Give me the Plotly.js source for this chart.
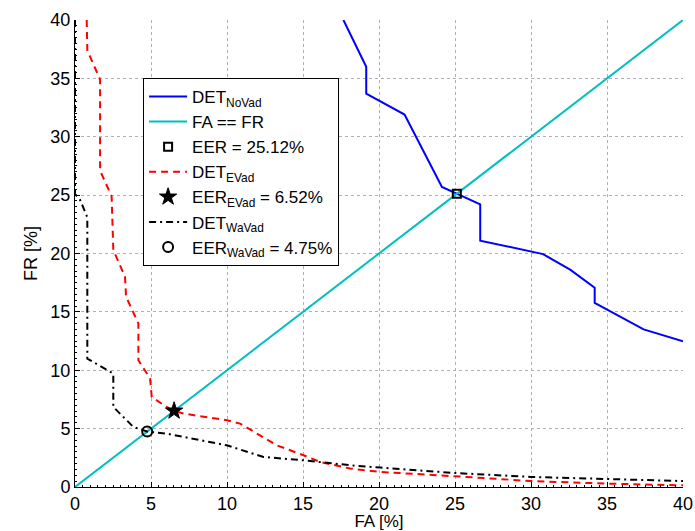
<!DOCTYPE html>
<html><head><meta charset="utf-8">
<script src="https://cdn.plot.ly/plotly-3.0.1.min.js"></script>
<style>html,body{margin:0;padding:0;background:#fff;}#chart{width:695px;height:531px;}</style>
</head><body><div id="chart"></div>
<script>
// DET_NoVad curve
const noVadFA = [17.66, 19.16, 19.16, 21.68, 24.14, 25.12, 26.66, 26.66, 30.79, 32.6, 34.19, 34.19, 35.8, 37.41, 40];
const noVadFR = [40, 36.0, 33.7, 31.9, 25.7, 25.12, 24.2, 21.1, 19.95, 18.6, 17.06, 15.77, 14.6, 13.5, 12.49];
// DET_EVad curve
const eVadFA = [0.77, 0.81, 1.65, 1.65, 2.41, 2.52, 3.29, 3.36, 4.17, 4.17, 4.94, 5.05, 6.03, 6.52, 7.13, 9.99, 10.86, 13.28, 15.03, 16.13, 18.1, 20.08, 25.0, 30.0, 35.0, 40];
const eVadFR = [40, 37.4, 34.9, 27.1, 24.9, 20.3, 18.0, 16.3, 14.0, 10.86, 9.29, 7.7, 6.86, 6.52, 6.29, 5.72, 5.43, 3.57, 2.72, 2.14, 1.58, 1.29, 0.92, 0.51, 0.29, 0.14];
// DET_WaVad curve
const waVadFA = [0, 0, 0.33, 0.81, 0.81, 2.52, 2.52, 3.84, 4.75, 6.03, 9.99, 12.4, 15.03, 18.1, 20.08, 25.0, 30.0, 35.0, 40];
const waVadFR = [40, 25.1, 24.6, 23.1, 11.0, 9.71, 6.86, 5.14, 4.75, 4.57, 3.57, 2.57, 2.29, 1.86, 1.66, 1.2, 0.86, 0.66, 0.51];
// FA == FR diagonal
const diagFA = [0, 40];
const diagFR = [0, 40];
// EER points
const eerNoVad = 25.12, eerEVad = 6.52, eerWaVad = 4.75;
const tickVals = [0, 5, 10, 15, 20, 25, 30, 35, 40];

const traces = [
  {x: noVadFA, y: noVadFR, mode: 'lines', name: 'DET<sub>NoVad</sub>', line: {color: '#0000ff', width: 2}},
  {x: diagFA, y: diagFR, mode: 'lines', name: 'FA == FR', line: {color: '#00bfbf', width: 2}},
  {x: [eerNoVad], y: [eerNoVad], mode: 'markers', name: 'EER = 25.12%', marker: {symbol: 'square-open', size: 8, color: '#000', line: {width: 2, color: '#000'}}},
  {x: eVadFA, y: eVadFR, mode: 'lines', name: 'DET<sub>EVad</sub>', line: {color: '#ff0000', width: 2, dash: '7px,5px'}},
  {x: [eerEVad], y: [eerEVad], mode: 'markers', name: 'EER<sub>EVad</sub> = 6.52%', marker: {symbol: 'star', size: 13, color: '#000', line: {width: 1, color: '#000'}}},
  {x: waVadFA, y: waVadFR, mode: 'lines', name: 'DET<sub>WaVad</sub>', line: {color: '#000000', width: 2, dash: '7px,4px,2px,4px'}},
  {x: [eerWaVad], y: [eerWaVad], mode: 'markers', name: 'EER<sub>WaVad</sub> = 4.75%', marker: {symbol: 'circle-open', size: 10, color: '#000', line: {width: 2, color: '#000'}}}
];

const axisCommon = {
  range: [0, 40], tickvals: tickVals, ticktext: tickVals.map(String),
  showline: true, linecolor: '#000', linewidth: 1, mirror: false,
  ticks: 'inside', ticklen: 5, tickcolor: '#000',
  showgrid: true, gridcolor: '#b0b0b0', griddash: 'dot', gridwidth: 1,
  zeroline: false, tickfont: {size: 18, color: '#000', family: 'Liberation Sans, Arial, sans-serif'},
  minor: {ticks: 'inside', dtick: 0.5, ticklen: 2, tickcolor: '#000', showgrid: false}
};

const layout = {
  width: 695, height: 531,
  margin: {l: 75, r: 12, t: 20, b: 44},
  paper_bgcolor: '#fff', plot_bgcolor: '#fff',
  font: {family: 'Liberation Sans, Arial, sans-serif', color: '#000'},
  showlegend: true,
  legend: {x: 0.112, y: 0.876, xanchor: 'left', yanchor: 'top', bgcolor: '#fff', bordercolor: '#000', borderwidth: 1,
           font: {size: 17, color: '#000'}, tracegroupgap: 0, itemwidth: 38},
  xaxis: Object.assign({}, axisCommon, {ticklabelstandoff: 0, title: {text: 'FA [%]', font: {size: 17}, standoff: 0}}),
  yaxis: Object.assign({}, axisCommon, {title: {text: 'FR [%]', font: {size: 18}, standoff: 8}})
};

Plotly.newPlot('chart', traces, layout, {displayModeBar: false, staticPlot: true});
</script>
</body></html>
